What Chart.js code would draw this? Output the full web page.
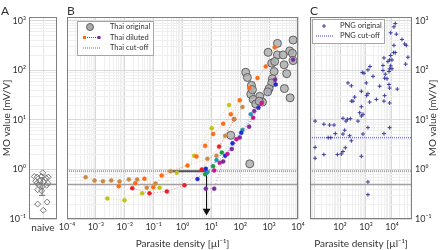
<!DOCTYPE html>
<html>
<head>
<meta charset="utf-8">
<script src="https://cdn.jsdelivr.net/npm/chart.js@4.4.0/dist/chart.umd.min.js"></script>
<style>
  body { margin: 0; background: #fff; }
  .wrap { position: relative; width: 440px; height: 250px; }
  .wrap canvas { position: absolute; left: 0; top: 0; }
</style>
</head>
<body>
<div class="wrap">
  <canvas id="chartA" width="440" height="250"></canvas>
  <canvas id="chartB" width="440" height="250"></canvas>
  <canvas id="chartC" width="440" height="250"></canvas>
</div>
<script>
// --- tick labels ---
const moTicks = [0.1, 1, 10, 100, 1000];
const thaiTicks = [1e-4, 1e-3, 1e-2, 1e-1, 1, 10, 100, 1000, 10000];
const pngTicks = [100, 1000, 10000];

// --- panel A: naive controls ---
const naiveX = [0.49, 0.19, 0.29, 0.45, 0.60, 0.69, 0.24, 0.39, 0.51, 0.67, 0.29, 0.36, 0.48, 0.63, 0.31, 0.45, 0.65, 0.31, 0.51];
const naiveMO = [0.86, 0.72, 0.70, 0.72, 0.68, 0.70, 0.58, 0.58, 0.56, 0.53, 0.53, 0.48, 0.46, 0.48, 0.39, 0.37, 0.22, 0.20, 0.15];
const naiveMean = 0.5;
const naiveErr = [0.30, 0.68];

// --- panel B: Thai samples ---
const thaiOrigDensity = [6760, 1940, 923, 1940, 3050, 5160, 6400, 1230, 1560, 3300, 6760, 155, 1490, 177, 4060, 244, 1300, 1230, 3380, 1000, 895, 231, 473, 280, 586, 5330, 344, 264, 47, 213, 451];
const thaiOrigMO = [411, 352, 232, 206, 206, 248, 222, 140, 151, 130, 158, 92, 95, 72, 86, 50, 68, 56, 43, 43, 37, 33, 30, 26, 23, 28, 21, 41, 4.9, 1.3, 24];

const orangeDensity = [1560, 763, 394, 203, 96, 47, 25.6, 11.5, 6.1, 3.05, 1.49, 0.19, 0.097, 0.048, 0.023, 0.0062];
const orangeMO = [292, 120, 70, 44, 25, 13, 8.4, 5.2, 3.0, 1.82, 1.2, 0.76, 0.44, 0.65, 0.53, 0.46];
const yellowDensity = [41, 10.3, 2.54, 0.635, 0.16, 0.040, 0.0098, 0.0025];
const yellowMO = [20, 6.8, 1.9, 0.86, 0.43, 0.33, 0.24, 0.26];
const brownDensity = [119, 61.5, 30, 15, 7.3, 0.384, 0.116, 0.058, 0.027, 0.0139, 0.0066, 0.0034, 0.00175, 0.0009, 0.00044];
const brownMO = [18.2, 10.5, 4.8, 1.9, 1.64, 0.925, 0.52, 0.43, 0.63, 0.63, 0.57, 0.60, 0.58, 0.60, 0.70];
const redDensity = [61.5, 18.6, 4.65, 1.17, 0.286, 0.072, 0.0182];
const redMO = [10.3, 2.9, 1.0, 0.48, 0.36, 0.33, 0.42];
const magentaDensity = [555, 280, 74, 36, 19.5, 12.5];
const magentaMO = [22, 11.1, 4.1, 2.06, 1.36, 0.955];
const purpleDensity = [6760, 1610, 303, 203, 96, 51, 25.6, 12.5, 6.4];
const purpleMO = [164, 65, 15.1, 7.3, 4.4, 2.6, 1.45, 0.41, 0.41];
const blueDensity = [1690, 426, 108, 54, 30, 6.4, 3.3];
const blueMO = [52, 17.6, 5.5, 3.4, 1.9, 1.03, 0.64];
const tealDensity = [231, 119, 15, 7.3];
const tealMO = [13, 6.3, 1.55, 0.88];
const greenDensity = [22.9, 11.5, 6.1];
const greenMO = [2.2, 1.16, 0.80];

const thaiCutoff = 0.925;
const lodStart = 0.33;
const lodDensity = 6.8;
const arrowTip = 0.145;

// --- panel C: PNG samples ---
const pngDensity = [13400, 11900, 8890, 14700, 24300, 30700, 35600, 11900, 13400, 11600, 8890, 4920, 8130, 10000, 7020, 41200, 33600, 4500, 8890, 8130, 10000, 1430, 1190, 4500, 7670, 722, 838, 5540, 1860, 5220, 6420, 7670, 8130, 3360, 1030, 203, 273, 16000, 662, 1190, 1060, 5220, 366, 273, 316, 2500, 1380, 4920, 8130, 662, 570, 767, 130, 662, 250, 191, 170, 11, 24, 40, 59, 492, 1190, 8130, 151, 66, 130, 767, 4920, 235, 35, 44, 273, 11, 24, 79, 112, 130, 160, 11, 662, 1190, 1190];
const pngMO = [885, 759, 575, 541, 423, 342, 321, 321, 229, 229, 200, 179, 163, 163, 151, 185, 134, 126, 124, 108, 108, 120, 103, 100, 95, 91, 88, 84, 76, 70, 68, 52, 44, 48, 56, 56, 49, 42, 38, 34, 31, 31, 29, 24, 24, 26, 23, 24, 22, 18.5, 14, 13, 10.8, 12, 10.6, 10.3, 9.5, 9.5, 8.2, 7.9, 7.9, 9.5, 7.0, 7.0, 6.2, 5.3, 5.2, 5.2, 5.3, 4.8, 4.4, 4.4, 3.8, 2.8, 2.0, 2.0, 2.06, 2.3, 2.75, 1.69, 1.85, 0.56, 0.31];
const pngCutoff = 4.4;

const thaiLegend = ['Thai original', 'Thai diluted', 'Thai cut-off'];
const pngLegend = ['PNG original', 'PNG cut-off'];

// --- helpers ---
const FONT = "Lato, 'DejaVu Sans', sans-serif";
Chart.defaults.font.family = FONT;
Chart.defaults.color = '#333';

const SUP = {'-': '⁻', '0': '⁰', '1': '¹', '2': '²', '3': '³', '4': '⁴', '5': '⁵', '6': '⁶', '7': '⁷', '8': '⁸', '9': '⁹'};
function isDecade(v){
    const e = Math.log10(v);
    return Math.abs(e - Math.round(e)) < 1e-6;
}
function powLabel(v){
    const e = Math.round(Math.log10(v));
    return '10' + String(e).split('').map(ch => SUP[ch]).join('');
}
function logTicks(min, max){
    const ticks = [];
    for (let e = Math.floor(Math.log10(min)); e <= Math.ceil(Math.log10(max)); e++) {
        for (let m = 1; m < 10; m++) {
            const v = m * Math.pow(10, e);
            if (v >= min * 0.999 && v <= max * 1.001) ticks.push({value: v});
        }
    }
    return ticks;
}
function logAxis(min, max, labels, extra){
    return Object.assign({
        type: 'logarithmic', min, max,
        afterBuildTicks: ax => { ax.ticks = logTicks(min, max); },
        ticks: {
            autoSkip: false, maxRotation: 0, padding: 3, font: {size: 9}, color: '#333',
            callback: v => labels.some(t => Math.abs(Math.log10(t) - Math.log10(v)) < 1e-6) ? powLabel(v) : ''
        },
        grid: { color: c => c.tick && isDecade(c.tick.value) ? '#d9d9d9' : '#efefef', drawTicks: false },
        border: { display: false }
    }, extra);
}
const pts = (xs, ys) => xs.map((x, i) => ({x, y: ys[i]}));
const hline = (y, x0, x1) => [{x: x0, y}, {x: x1, y}];

function hLineSet(data, color, width, dash){
    return { data, showLine: true, borderColor: color, borderWidth: width, borderDash: dash || [], pointRadius: 0, order: 5 };
}

const frame = {
    id: 'frame',
    afterDatasetsDraw(chart){
        const {ctx, chartArea: a} = chart;
        ctx.save();
        ctx.strokeStyle = '#808080';
        ctx.lineWidth = 1;
        ctx.strokeRect(Math.round(a.left) + 0.5, Math.round(a.top) + 0.5, Math.round(a.right - a.left) - 1, Math.round(a.bottom - a.top) - 1);
        ctx.restore();
    }
};
const titleFont = {size: 12, weight: 'normal', lineHeight: 1};
const baseOpts = {
    responsive: false, animation: false, devicePixelRatio: 1,
    events: []
};

// --- Panel A ---
new Chart(document.getElementById('chartA'), {
    type: 'scatter',
    data: { datasets: [
        { data: pts(naiveX, naiveMO), pointStyle: 'rectRot', pointRadius: 3, pointBackgroundColor: 'rgba(255,255,255,0)', pointBorderColor: '#7a7a7a', pointBorderWidth: 1, order: 1 },
        hLineSet(hline(naiveMean, 0, 1), '#8c8c8c', 1.5),
        hLineSet([{x: 0.47, y: naiveErr[0]}, {x: 0.47, y: naiveErr[1]}], '#6e6e6e', 1),
        hLineSet(hline(naiveErr[0], 0.36, 0.58), '#6e6e6e', 1),
        hLineSet(hline(naiveErr[1], 0.36, 0.58), '#6e6e6e', 1)
    ]},
    options: Object.assign({}, baseOpts, {
        layout: { padding: { left: 1, right: 383, top: 0, bottom: 0 } },
        plugins: { legend: {display: false}, tooltip: {enabled: false},
            title: {display: true, text: 'A', align: 'start', font: titleFont, padding: {top: 5, bottom: 0}, color: '#333'} },
        scales: {
            x: { type: 'linear', min: 0, max: 1,
                afterBuildTicks: ax => { ax.ticks = [{value: 0.5}]; },
                ticks: { callback: () => 'naive', font: {size: 10}, padding: 3, maxRotation: 0 },
                grid: { color: '#e6e6e6', drawTicks: false }, border: {display: false},
                afterFit: s => { s.height = 31; } },
            y: logAxis(0.1, 1200, moTicks, {
                afterFit: s => { s.width = 28; },
                title: { display: true, text: 'MO value [mV/V]', font: {size: 10}, padding: 0, color: '#333' } })
        }
    }),
    plugins: [frame]
});

// --- Panel B ---
const dilutionSeries = [
    [orangeDensity, orangeMO, '#ff6a13'],
    [yellowDensity, yellowMO, '#c2c214'],
    [brownDensity, brownMO, '#c98a45'],
    [redDensity, redMO, '#ee1c25'],
    [magentaDensity, magentaMO, '#c4198a'],
    [purpleDensity, purpleMO, '#7b2b9c'],
    [blueDensity, blueMO, '#1c2ad8'],
    [tealDensity, tealMO, '#1b9aaf'],
    [greenDensity, greenMO, '#1f9b40']
];
const hexA = (hex, a) => 'rgba(' + [1, 3, 5].map(i => parseInt(hex.substr(i, 2), 16)).join(',') + ',' + a + ')';

const thaiLegendBox = {
    id: 'thaiLegendBox',
    afterDraw(chart){
        const ctx = chart.ctx;
        ctx.save();
        ctx.fillStyle = '#fff'; ctx.strokeStyle = '#a6a6a6'; ctx.lineWidth = 1;
        ctx.fillRect(77.5, 21.5, 76, 34); ctx.strokeRect(77.5, 21.5, 76, 34);
        ctx.beginPath(); ctx.arc(90, 27, 3.5, 0, Math.PI * 2);
        ctx.fillStyle = '#aaa'; ctx.fill(); ctx.strokeStyle = '#5f5f5f'; ctx.stroke();
        ctx.setLineDash([1, 1]); ctx.strokeStyle = '#555';
        ctx.beginPath(); ctx.moveTo(85, 37.5); ctx.lineTo(98, 37.5); ctx.stroke();
        ctx.strokeStyle = '#a0a0a0'; ctx.lineWidth = 1.5;
        ctx.beginPath(); ctx.moveTo(83, 48); ctx.lineTo(100, 48); ctx.stroke();
        ctx.setLineDash([]);
        ctx.fillStyle = '#ff6a13'; ctx.fillRect(83, 36, 3, 3);
        ctx.fillStyle = '#7b2b9c'; ctx.fillRect(97.5, 36, 3, 3);
        ctx.font = '7.5px ' + FONT; ctx.fillStyle = '#333'; ctx.textBaseline = 'middle';
        thaiLegend.forEach((t, i) => ctx.fillText(t, 110, 27 + i * 10.5));
        ctx.restore();
    }
};

const bSets = [];
dilutionSeries.forEach(([xs, ys, col]) => {
    bSets.push({ data: pts(xs, ys), showLine: true, borderColor: hexA(col, 0.45), borderWidth: 1, borderDash: [1, 2],
        pointRadius: 2, pointBackgroundColor: col, pointBorderColor: col, pointBorderWidth: 0.5, order: 1 });
});
bSets.push({ data: pts(thaiOrigDensity, thaiOrigMO), pointRadius: 4, pointBackgroundColor: 'rgba(175,175,175,0.85)',
    pointBorderColor: '#606060', pointBorderWidth: 1, order: 2 });
bSets.push(hLineSet(hline(thaiCutoff, 1e-4, 1e4), '#a8a8a8', 2, [1, 1]));
bSets.push(hLineSet(hline(naiveMean, 1e-4, 1e4), '#a0a0a0', 1.5));
bSets.push(Object.assign(hLineSet(hline(thaiCutoff, lodStart, lodDensity), '#555', 2), {order: 3}));
bSets.push(Object.assign(hLineSet([{x: lodDensity, y: thaiCutoff}, {x: lodDensity, y: arrowTip}], '#111', 1), {order: 3}));
bSets.push({ data: [{x: lodDensity, y: arrowTip}], pointStyle: 'triangle', rotation: 180, pointRadius: 4.5,
    pointBackgroundColor: '#111', pointBorderColor: '#111', pointBorderWidth: 0, order: 3 });

new Chart(document.getElementById('chartB'), {
    type: 'scatter',
    data: { datasets: bSets },
    options: Object.assign({}, baseOpts, {
        layout: { padding: { left: 67, right: 142, top: 0, bottom: 0 } },
        plugins: { legend: {display: false}, tooltip: {enabled: false},
            title: {display: true, text: 'B', align: 'start', font: titleFont, padding: {top: 5, bottom: 0}, color: '#333'} },
        scales: {
            x: logAxis(1e-4, 1e4, thaiTicks, {
                afterFit: s => { s.height = 31; },
                title: { display: true, text: 'Parasite density [µl⁻¹]', font: {size: 10}, padding: 0, color: '#333' } }),
            y: logAxis(0.1, 1200, moTicks, { afterFit: s => { s.width = 0; } })
        }
    }),
    plugins: [frame, thaiLegendBox]
});
// hide y tick labels of panel B
Chart.getChart('chartB').options.scales.y.ticks.display = false;
Chart.getChart('chartB').update();

// --- Panel C ---
const pngLegendBox = {
    id: 'pngLegendBox',
    afterDraw(chart){
        const ctx = chart.ctx;
        const a = chart.chartArea;
        ctx.save();
        ctx.fillStyle = '#fff'; ctx.strokeStyle = '#a6a6a6'; ctx.lineWidth = 1;
        ctx.fillRect(312.5, 19.5, 72, 24); ctx.strokeRect(312.5, 19.5, 72, 24);
        ctx.strokeStyle = '#3b3b9e';
        ctx.beginPath(); ctx.moveTo(322, 26); ctx.lineTo(326, 26); ctx.moveTo(324, 24); ctx.lineTo(324, 28); ctx.stroke();
        ctx.strokeStyle = '#7a7ae6'; ctx.lineWidth = 1.5; ctx.setLineDash([1, 1]);
        ctx.beginPath(); ctx.moveTo(316, 36); ctx.lineTo(333, 36); ctx.stroke();
        ctx.setLineDash([]);
        ctx.font = '7.5px ' + FONT; ctx.fillStyle = '#333'; ctx.textBaseline = 'middle';
        pngLegend.forEach((t, i) => ctx.fillText(t, 340, 26 + i * 10));
        // right-hand axis title
        ctx.font = '10px ' + FONT; ctx.textAlign = 'center';
        ctx.translate(433, (a.top + a.bottom) / 2);
        ctx.rotate(-Math.PI / 2);
        ctx.fillText('MO value [mV/V]', 0, 0);
        ctx.restore();
    }
};

new Chart(document.getElementById('chartC'), {
    type: 'scatter',
    data: { datasets: [
        { data: pts(pngDensity, pngMO), pointStyle: 'cross', pointRadius: 2, pointBorderColor: '#3b3b9e', pointBorderWidth: 1, order: 1 },
        hLineSet(hline(pngCutoff, 7, 59000), '#7a7ae6', 1.5, [1, 1]),
        hLineSet(hline(thaiCutoff, 7, 59000), '#a8a8a8', 2, [1, 1]),
        hLineSet(hline(naiveMean, 7, 59000), '#a0a0a0', 1.5)
    ]},
    options: Object.assign({}, baseOpts, {
        layout: { padding: { left: 310, right: 0, top: 0, bottom: 0 } },
        plugins: { legend: {display: false}, tooltip: {enabled: false},
            title: {display: true, text: 'C', align: 'start', font: titleFont, padding: {top: 5, bottom: 0}, color: '#333'} },
        scales: {
            x: logAxis(7, 59000, pngTicks, {
                afterFit: s => { s.height = 31; },
                title: { display: true, text: 'Parasite density [µl⁻¹]', font: {size: 10}, padding: 0, color: '#333' } }),
            y: logAxis(0.1, 1200, moTicks, { position: 'right', afterFit: s => { s.width = 28; } })
        }
    }),
    plugins: [frame, pngLegendBox]
});
</script>
</body>
</html>
